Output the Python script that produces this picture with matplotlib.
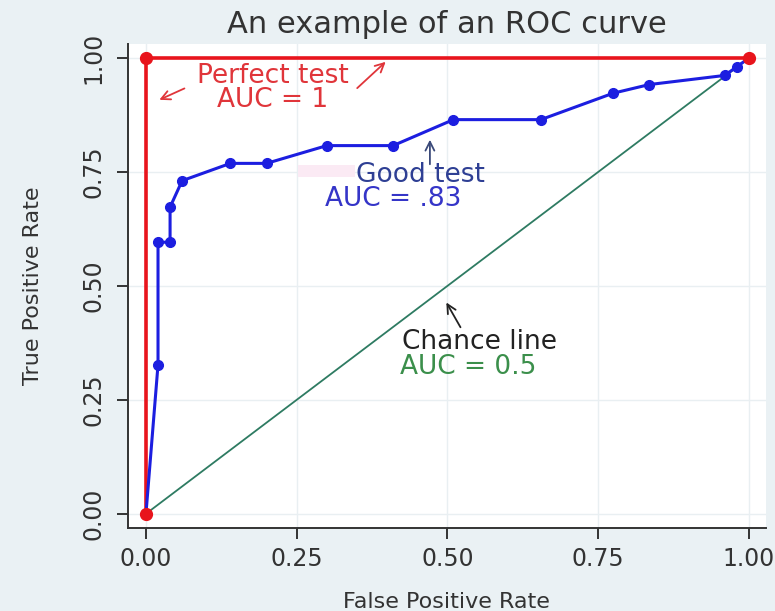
import matplotlib
matplotlib.use('Agg')
import matplotlib.pyplot as plt
from matplotlib.patches import Rectangle

# ---- data ----
good_fpr = [0, 0.02, 0.02, 0.04, 0.04, 0.06, 0.14, 0.20, 0.30, 0.41,
            0.51, 0.655, 0.775, 0.835, 0.96, 0.98, 1.0]
good_tpr = [0, 0.327, 0.596, 0.596, 0.673, 0.731, 0.769, 0.769, 0.808, 0.808,
            0.865, 0.865, 0.923, 0.942, 0.962, 0.981, 1.0]

perfect_fpr = [0, 0, 1]
perfect_tpr = [0, 1, 1]

chance_fpr = [0, 1]
chance_tpr = [0, 1]

ticks = [0, 0.25, 0.5, 0.75, 1.0]
tick_labels = ['0.00', '0.25', '0.50', '0.75', '1.00']

# colours
BG = '#eaf1f4'
RED = '#e8141c'
BLUE = '#1c1ee0'
GREEN = '#2e7b62'
DARK = '#333333'

plt.rcParams['font.family'] = ['DejaVu Sans']

fig = plt.figure(figsize=(7.75, 6.11), dpi=100, facecolor=BG)
ax = fig.add_axes([0.165, 0.136, 0.823, 0.792])
ax.set_facecolor('white')

# faint grid
ax.set_xticks(ticks)
ax.set_yticks(ticks)
ax.grid(True, color='#e9eff2', lw=1.0, zorder=0)
ax.set_axisbelow(True)

# faint pink smudge near the "Good test" label
ax.add_patch(Rectangle((0.252, 0.739), 0.095, 0.026, facecolor='#fbeaf4',
                       edgecolor='none', zorder=1))

# curves
ax.plot(chance_fpr, chance_tpr, color=GREEN, lw=1.3, zorder=2)
ax.plot(perfect_fpr, perfect_tpr, color=RED, lw=2.6, zorder=3)
ax.plot(good_fpr, good_tpr, color=BLUE, lw=2.2, marker='o', ms=7, zorder=4)
ax.plot(perfect_fpr, perfect_tpr, color=RED, lw=0, marker='o', ms=8.5, zorder=5)

# annotations
afs = 19
ax.text(0.21, 0.96, 'Perfect test', color='#e0353a', fontsize=afs,
        ha='center', va='center')
ax.text(0.21, 0.907, 'AUC = 1', color='#e0353a', fontsize=afs,
        ha='center', va='center')
ax.annotate('', xy=(0.018, 0.906), xytext=(0.068, 0.936),
            arrowprops=dict(arrowstyle='->', color='#e0353a', lw=1.3, mutation_scale=16))
ax.annotate('', xy=(0.401, 0.996), xytext=(0.347, 0.93),
            arrowprops=dict(arrowstyle='->', color='#e0353a', lw=1.3, mutation_scale=16))

ax.text(0.456, 0.743, 'Good test', color='#2e3f94', fontsize=afs,
        ha='center', va='center')
ax.text(0.41, 0.69, 'AUC = .83', color='#3535c8', fontsize=afs,
        ha='center', va='center')
ax.annotate('', xy=(0.471, 0.827), xytext=(0.471, 0.761),
            arrowprops=dict(arrowstyle='->', color='#3b4a7a', lw=1.3, mutation_scale=16))

ax.text(0.554, 0.377, 'Chance line', color='#222222', fontsize=afs,
        ha='center', va='center')
ax.text(0.534, 0.322, 'AUC = 0.5', color='#3b8f4b', fontsize=afs,
        ha='center', va='center')
ax.annotate('', xy=(0.496, 0.469), xytext=(0.524, 0.404),
            arrowprops=dict(arrowstyle='->', color='#222222', lw=1.3, mutation_scale=16))

# axes styling
ax.set_xlim(-0.03, 1.028)
ax.set_ylim(-0.031, 1.031)
ax.set_xticklabels(tick_labels)
ax.set_yticklabels(tick_labels, rotation=90, va='center')
ax.tick_params(axis='both', colors=DARK, labelsize=17, length=8, width=1.4,
               direction='out')
ax.tick_params(axis='x', pad=6)
ax.tick_params(axis='y', pad=8)
for side in ['top', 'right']:
    ax.spines[side].set_visible(False)
for side in ['left', 'bottom']:
    ax.spines[side].set_color(DARK)
    ax.spines[side].set_linewidth(1.4)

ax.set_xlabel('False Positive Rate', fontsize=16, color=DARK)
ax.set_ylabel('True Positive Rate', fontsize=16, color=DARK)
ax.xaxis.set_label_coords(0.5, -0.133)
ax.yaxis.set_label_coords(-0.133, 0.5)
ax.set_title('An example of an ROC curve', fontsize=22, color=DARK, pad=8)

fig.savefig('out.png', dpi=100, facecolor=BG)
